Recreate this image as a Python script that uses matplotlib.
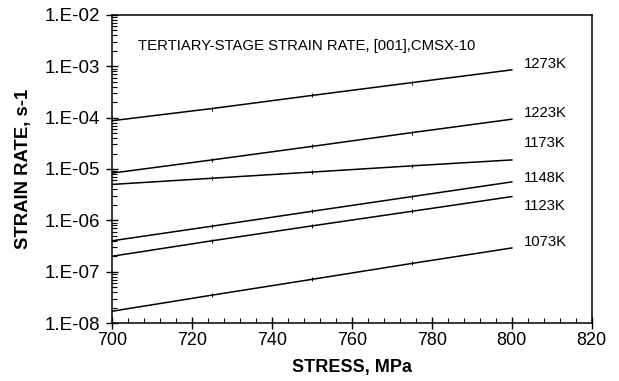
import numpy as np
import matplotlib
matplotlib.use("Agg")
import matplotlib.pyplot as plt
from matplotlib.ticker import FixedLocator, LogLocator, FuncFormatter, MultipleLocator, NullFormatter

plt.rcParams['font.family'] = ['Liberation Sans', 'DejaVu Sans']

stress = [700, 725, 750, 775, 800]
temps = ["1273K", "1223K", "1173K", "1148K", "1123K", "1073K"]
rates = {
    "1273K": [8.7e-5, 1.5e-4, 2.7e-4, 4.8e-4, 8.5e-4],
    "1223K": [8.3e-6, 1.5e-5, 2.75e-5, 5.1e-5, 9.3e-5],
    "1173K": [5.0e-6, 6.6e-6, 8.7e-6, 1.15e-5, 1.5e-5],
    "1148K": [4.0e-7, 7.7e-7, 1.5e-6, 2.9e-6, 5.6e-6],
    "1123K": [2.0e-7, 4.0e-7, 7.8e-7, 1.5e-6, 2.9e-6],
    "1073K": [1.7e-8, 3.5e-8, 7.1e-8, 1.45e-7, 2.9e-7],
}
title_text = "TERTIARY-STAGE STRAIN RATE, [001],CMSX-10"
x_ticks = [700, 720, 740, 760, 780, 800, 820]

# label vertical offsets (points) relative to line end
label_offsets = {"1273K": 4, "1223K": 4.5, "1173K": 12, "1148K": 3, "1123K": -6.5, "1073K": 4}

fig = plt.figure(figsize=(6.19, 3.81), dpi=100)
ax = fig.add_axes([0.181, 0.152, 0.775, 0.809])

for t in temps:
    ax.plot(stress, rates[t], color='black', lw=1.1, marker='|', ms=2.2, mew=0.7,
            markevery=[1, 2, 3])
    ax.annotate(t, xy=(stress[-1], rates[t][-1]), xytext=(9, label_offsets[t]),
                textcoords='offset points', ha='left', va='center', fontsize=10.7)

ax.set_yscale('log')
ax.set_xlim(700, 820)
ax.set_ylim(1e-8, 1e-2)
ax.xaxis.set_major_locator(FixedLocator(x_ticks))
ax.xaxis.set_minor_locator(MultipleLocator(4))
ax.yaxis.set_major_locator(LogLocator(base=10, numticks=20))
ax.yaxis.set_minor_locator(LogLocator(base=10, subs=np.arange(2, 10), numticks=20))
ax.yaxis.set_major_formatter(FuncFormatter(lambda v, p: "1.E-%02d" % int(round(-np.log10(v)))))
ax.yaxis.set_minor_formatter(NullFormatter())

ax.tick_params(axis='both', which='major', direction='inout', length=9, width=1.0,
               top=False, right=False)
ax.tick_params(axis='x', which='major', labelsize=13, pad=2)
ax.tick_params(axis='y', which='major', labelsize=13.5, pad=4)
ax.tick_params(axis='both', which='minor', direction='in', length=3.5, width=0.8,
               top=False, right=False)
for s in ax.spines.values():
    s.set_linewidth(1.1)

ax.set_xlabel("STRESS, MPa", fontsize=13, fontweight='bold', labelpad=7)
ax.set_ylabel("STRAIN RATE, s-1", fontsize=13.3, fontweight='bold', labelpad=9)
ax.text(0.055, 0.9, title_text, transform=ax.transAxes, fontsize=10.7, ha='left', va='center')

fig.savefig("out.png", dpi=100)
